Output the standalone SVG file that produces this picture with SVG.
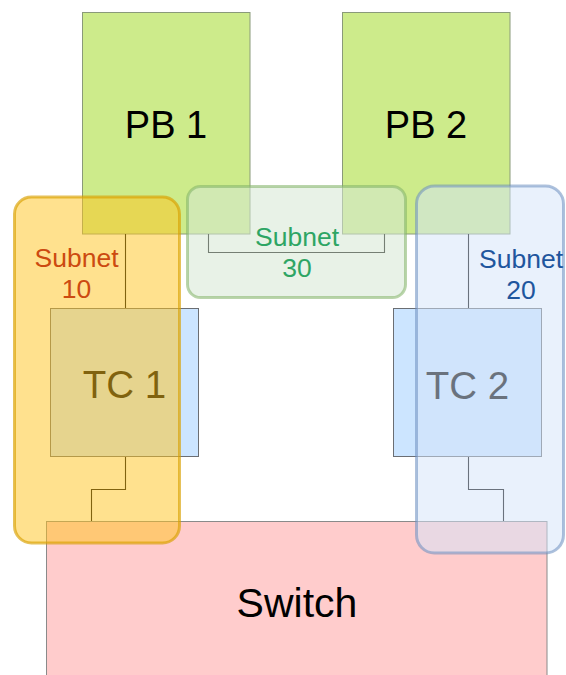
<svg xmlns="http://www.w3.org/2000/svg" width="566" height="675" viewBox="0 0 566 675">
<style>
  .pb { fill: #cdeb8b; stroke: #8a9a7a; stroke-width: 1; }
  .tc { fill: #cce5ff; stroke: #6b6e73; stroke-width: 1; }
  .sw { fill: #ffcccc; stroke: #8a8a8a; stroke-width: 1; }
  .lbl { font-family: "Liberation Sans", Arial, Helvetica, sans-serif; text-anchor: middle; fill: #000000; }
  .big { font-size: 38px; }
  .sub { font-family: "Liberation Sans", Arial, Helvetica, sans-serif; text-anchor: middle; font-size: 26.5px; }
  .conn { fill: none; stroke: #000000; stroke-width: 1.1; }
  .g10 { fill: #ffc41e; fill-opacity: 0.5; stroke: #d9a000; stroke-opacity: 0.65; stroke-width: 3; }
  .g30 { fill: #d5e8d4; fill-opacity: 0.55; stroke: #82b366; stroke-opacity: 0.55; stroke-width: 3; }
  .g20 { fill: #d4e3fa; fill-opacity: 0.5; stroke: #6c8ebf; stroke-opacity: 0.55; stroke-width: 3; }
</style>
<g id="pb1">
  <rect class="pb" x="82.5" y="12.5" width="167.5" height="221.5"/>
  <text class="lbl big" x="166" y="138">PB 1</text>
</g>
<g id="pb2">
  <rect class="pb" x="342.5" y="12.5" width="167.5" height="221.5"/>
  <text class="lbl big" x="426" y="138">PB 2</text>
</g>
<g id="switch">
  <rect class="sw" x="46.5" y="521.5" width="500.5" height="160"/>
  <text class="lbl" x="297" y="617" font-size="41">Switch</text>
</g>
<g id="connectors">
  <path class="conn" d="M125.5,234 V308.5"/>
  <path class="conn" d="M125.5,457 V489.5 H91.5 V521"/>
  <path class="conn" d="M468.5,234 V308.5"/>
  <path class="conn" d="M468.5,457 V489.5 H503.5 V521"/>
  <path class="conn" d="M208.5,234 V252.5 H384.5 V234"/>
</g>
<g id="tc1">
  <rect class="tc" x="50.5" y="308.5" width="148" height="148"/>
  <text class="lbl" x="124.5" y="398" font-size="38.5">TC 1</text>
</g>
<g id="tc2">
  <rect class="tc" x="393.5" y="308.5" width="148" height="148"/>
  <text class="lbl" x="467.5" y="398.5" font-size="38.5">TC 2</text>
</g>
<g id="subnet10">
  <rect class="g10" x="14.5" y="197" width="165" height="346" rx="17"/>
  <text class="sub" x="76.5" y="266.5" fill="#cc4a10">Subnet</text>
  <text class="sub" x="76.5" y="297.5" fill="#cc4a10">10</text>
</g>
<g id="subnet30">
  <rect class="g30" x="187.5" y="186.5" width="218" height="111" rx="13"/>
  <text class="sub" x="297" y="246" fill="#2ea564">Subnet</text>
  <text class="sub" x="297" y="276.5" fill="#2ea564">30</text>
</g>
<g id="subnet20">
  <rect class="g20" x="416.5" y="186" width="147" height="367" rx="18"/>
  <text class="sub" x="521" y="268" fill="#1f569e">Subnet</text>
  <text class="sub" x="521" y="298.5" fill="#1f569e">20</text>
</g>
</svg>
